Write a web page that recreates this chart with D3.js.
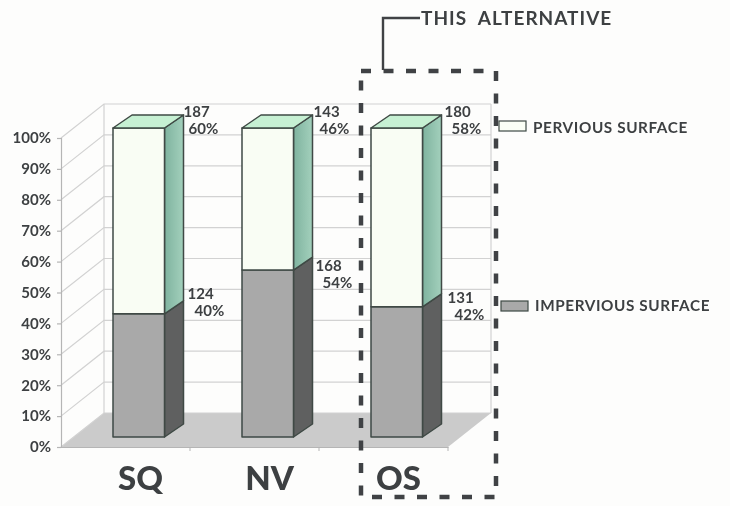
<!DOCTYPE html>
<html>
<head>
<meta charset="utf-8">
<script src="https://cdn.jsdelivr.net/npm/d3@7"></script>
<style>
  html, body { margin: 0; padding: 0; background: #fdfdfc; }
  svg { display: block; font-family: Lato, "Open Sans", sans-serif; }
  text { fill: #3e4143; }
  .grid { stroke: #d2d2d2; stroke-width: 1.2; fill: none; }
  .val { font-size: 15px; font-weight: 700; }
  .leg { font-size: 15.3px; font-weight: 700; letter-spacing: 0.6px; }
  .cat { font-size: 33px; font-weight: 900; }
</style>
</head>
<body>
<svg id="chart" width="730" height="506"></svg>
<script>
const categories = ['SQ', 'NV', 'OS'];
const impervious = [124, 168, 131];
const pervious = [187, 143, 180];
const yTicks = [0, 0.1, 0.2, 0.3, 0.4, 0.5, 0.6, 0.7, 0.8, 0.9, 1];
const legendLabels = ['PERVIOUS SURFACE', 'IMPERVIOUS SURFACE'];
const calloutText = 'THIS  ALTERNATIVE';

const svg = d3.select('svg#chart');
const depth = { x: 43, y: -34 };        // depth of the whole 3d box
const barShift = { x: 52, y: -10 };     // front face of bar inside its band
const barDepth = { x: 19, y: -13 };
const barWidth = 51.5;

const xScale = d3.scaleBand().domain(categories).range([61, 448]);
const yScale = d3.scaleLinear().domain([0, 1]).range([447, 138]);

const rows = categories.map((c, i) => ({ cat: c, impervious: impervious[i], pervious: pervious[i] }));
const stacked = d3.stack().keys(['impervious', 'pervious']).offset(d3.stackOffsetExpand)(rows);

const defs = svg.append('defs');
const blur = defs.append('filter').attr('id', 'soft');
blur.append('feGaussianBlur').attr('stdDeviation', 0.5);
const sideGrad = defs.append('linearGradient').attr('id', 'greenSide').attr('x1', 0).attr('x2', 1);
sideGrad.append('stop').attr('offset', 0).attr('stop-color', '#7fb39f');
sideGrad.append('stop').attr('offset', 1).attr('stop-color', '#a3d0bc');

const g = svg.append('g').attr('filter', 'url(#soft)');
const [x0, x1] = xScale.range();
const poly = pts => pts.map(p => p.join(',')).join(' ');

// back wall and floor
g.append('polygon')
    .attr('points', poly([[x0, yScale(0)], [x1, yScale(0)], [x1 + depth.x, yScale(0) + depth.y], [x0 + depth.x, yScale(0) + depth.y]]))
    .attr('fill', '#cbcbcb');
g.append('line').attr('class', 'grid')
    .attr('x1', x1 + depth.x).attr('x2', x1 + depth.x)
    .attr('y1', yScale(0) + depth.y).attr('y2', yScale(1) + depth.y);
g.append('line').attr('class', 'grid')
    .attr('x1', x0 + depth.x).attr('x2', x0 + depth.x)
    .attr('y1', yScale(0) + depth.y).attr('y2', yScale(1) + depth.y);

yTicks.forEach(t => {
  const y = yScale(t);
  g.append('polyline').attr('class', 'grid')
      .attr('points', poly([[x0, y], [x0 + depth.x, y + depth.y], [x1 + depth.x, y + depth.y]]));
});

// axes
const yAxis = g.append('g')
    .attr('transform', `translate(${x0},0)`)
    .call(d3.axisLeft(yScale).tickValues(yTicks).tickFormat(d3.format('.0%')).tickSize(4).tickPadding(6));
yAxis.selectAll('text').style('font-size', '15px').style('font-weight', 700).style('font-family', 'Lato').style('fill', '#3e4143');
yAxis.selectAll('path, line').attr('stroke', '#b5b5b5').attr('stroke-width', 1.2);

const xAxis = g.append('g')
    .attr('transform', `translate(0,${yScale(0)})`)
    .call(d3.axisBottom(xScale).tickValues([]).tickSizeOuter(0));
xAxis.selectAll('path').attr('stroke', '#b5b5b5').attr('stroke-width', 1.2);
categories.forEach(c => {
  const x = xScale(c) + xScale.step();
  g.append('line').attr('x1', x).attr('x2', x).attr('y1', yScale(0)).attr('y2', yScale(0) + 4)
      .attr('stroke', '#b5b5b5');
});

g.selectAll('text.cat').data(categories).join('text')
    .attr('class', 'cat')
    .attr('text-anchor', 'middle')
    .attr('x', d => xScale(d) + xScale.step() / 2 + 15)
    .attr('y', 490)
    .text(d => d);

// 3d bars, impervious first then pervious on top
const faces = [
  { front: '#a9a9a9', side: '#5f6161' },
  { front: '#f9fdf4', side: 'url(#greenSide)', top: '#c6f0d3' },
];
stacked.forEach((layer, k) => {
  layer.forEach(d => {
    const left = xScale(d.data.cat) + barShift.x;
    const right = left + barWidth;
    const yb = yScale(d[0]) + barShift.y;
    const yt = yScale(d[1]) + barShift.y;
    const bar = g.append('g').attr('stroke', '#3f4a45').attr('stroke-width', 1.5).attr('stroke-linejoin', 'round');
    bar.append('polygon')
        .attr('points', poly([[right, yb], [right + barDepth.x, yb + barDepth.y], [right + barDepth.x, yt + barDepth.y], [right, yt]]))
        .attr('fill', faces[k].side);
    bar.append('rect')
        .attr('x', left).attr('y', yt)
        .attr('width', barWidth).attr('height', yb - yt)
        .attr('fill', faces[k].front);
    if (faces[k].top) {
      bar.append('polygon')
          .attr('points', poly([[left, yt], [right, yt], [right + barDepth.x, yt + barDepth.y], [left + barDepth.x, yt + barDepth.y]]))
          .attr('fill', faces[k].top);
    }
  });
});

// value labels, nudges are per bar since the original was hand placed
const labelNudges = [
  { pervious: [0, 0], impervious: [4, -15] },
  { pervious: [1, 0], impervious: [3, 1] },
  { pervious: [3, 0], impervious: [6, -4] },
];
const pct = d3.format('.0%');
const valueLabel = (x, y, count, share, indent, gap) => {
  g.append('text').attr('class', 'val').attr('x', x).attr('y', y).text(count);
  g.append('text').attr('class', 'val').attr('x', x + indent).attr('y', y + gap).text(pct(share));
};
rows.forEach((d, i) => {
  const total = d.impervious + d.pervious;
  const base = xScale(d.cat) + barShift.x + barWidth + barDepth.x;
  const nudge = labelNudges[i];
  valueLabel(base + nudge.pervious[0], 117, d.pervious, d.pervious / total, 5 + i, 16.5);
  const ySplit = yScale(d.impervious / total) + barShift.y;
  valueLabel(base + nudge.impervious[0], ySplit + nudge.impervious[1], d.impervious, d.impervious / total, 7, 17);
});

// dashed highlight box and callout
g.append('rect')
    .attr('x', 361).attr('y', 71).attr('width', 135).attr('height', 426)
    .attr('fill', 'none').attr('stroke', '#3f4345').attr('stroke-width', 4.5)
    .attr('stroke-dasharray', '10 12.5');
g.append('polyline')
    .attr('points', poly([[383, 70], [383, 18], [420, 18]]))
    .attr('fill', 'none').attr('stroke', '#3f4345').attr('stroke-width', 2.4);
g.append('text')
    .attr('x', 421).attr('y', 24.5)
    .style('font-size', '19px').style('font-weight', 700).style('letter-spacing', '1px')
    .style('white-space', 'pre')
    .text(calloutText);

// legend
const legendRows = [
  { label: legendLabels[0], x: 499, y: 121, textY: 132.5, fill: '#fbfff6' },
  { label: legendLabels[1], x: 501, y: 301, textY: 310.5, fill: '#a9a9a9' },
];
const leg = g.selectAll('g.legend').data(legendRows).join('g').attr('class', 'legend');
leg.append('rect')
    .attr('x', d => d.x).attr('y', d => d.y)
    .attr('width', 27).attr('height', 10)
    .attr('fill', d => d.fill).attr('stroke', '#3f4a45').attr('stroke-width', 1.2);
leg.append('text')
    .attr('class', 'leg')
    .attr('x', d => d.x + 34).attr('y', d => d.textY)
    .text(d => d.label);
</script>
</body>
</html>
